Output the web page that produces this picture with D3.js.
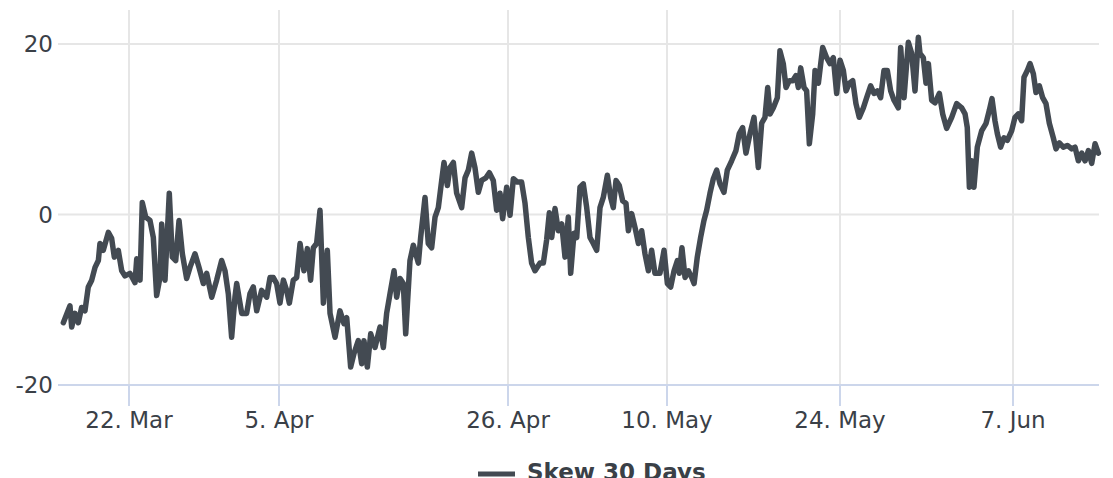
<!DOCTYPE html>
<html>
<head>
<meta charset="utf-8">
<script src="https://cdn.jsdelivr.net/npm/d3@7"></script>
<style>
  html, body { margin: 0; padding: 0; background: #ffffff; }
  svg { display: block; font-family: "DejaVu Sans", sans-serif; }
</style>
</head>
<body>
<svg id="chart" width="1113" height="478"></svg>
<script>
// ---- data (days counted from 22 Mar 2021, value = 30-day skew) ----
const seriesName = "Skew 30 Days";
const baseDate = "2021-03-22";
const tickDates = ["2021-03-22", "2021-04-05", "2021-04-26", "2021-05-10", "2021-05-24", "2021-06-07"];
const yTicks = [-20, 0, 20];

const daysFrom22Mar = [
  -6.13,-5.51,-5.35,-5.04,-4.73,-4.42,-4.11,-3.80,-3.48,-3.17,-2.86,-2.71,-2.40,-1.93,-1.62,-1.37,-1.00,-0.68,-0.37,0.09,
  0.56,0.72,1.03,1.24,1.56,1.96,2.27,2.58,2.89,3.05,3.36,3.76,4.04,4.36,4.67,4.98,5.38,5.69,6.16,6.53,
  6.94,7.25,7.72,8.18,8.65,8.96,9.27,9.58,9.89,
  10.05,10.52,10.98,11.29,11.60,11.92,12.38,12.85,13.16,13.47,13.78,14.09,14.40,14.70,14.95,15.31,15.62,15.93,16.29,16.60,
  16.90,17.15,17.45,17.76,18.07,18.43,18.68,19.14,19.59,19.96,20.21,20.57,20.88,21.27,21.58,21.79,22.10,22.41,22.80,23.26,
  23.57,23.87,24.18,24.55,24.79,25.10,25.40,25.62,26.01,
  26.32,26.78,26.99,27.39,27.69,28.00,28.31,28.61,28.92,29.13,29.44,29.68,29.99,30.29,30.75,31.06,31.36,31.67,31.97,
  32.28,32.58,32.98,33.29,33.65,33.96,34.27,34.51,34.88,35.18,35.47,35.82,36.20,36.50,36.79,37.08,37.38,37.82,
  38.11,38.40,38.64,38.85,39.14,39.43,39.73,40.02,40.31,40.52,40.81,41.05,41.34,41.63,41.93,42.22,
  42.51,42.81,43.10,43.39,43.75,44.04,44.27,44.51,44.80,45.10,45.39,45.60,45.89,46.18,46.48,46.77,47.06,47.36,47.65,47.94,
  48.38,48.74,49.03,49.30,49.57,49.84,50.00,50.21,50.46,50.73,51.00,51.19,51.45,51.72,51.99,52.21,52.48,52.75,53.02,53.29,
  53.61,53.88,54.23,
  54.58,54.85,55.12,55.39,55.72,56.04,56.39,56.66,56.93,57.15,57.34,57.60,57.93,58.14,58.41,58.63,58.90,59.17,59.44,59.63,
  59.82,60.09,60.30,60.52,60.79,60.98,61.25,61.60,61.92,62.19,62.46,62.73,63.00,63.27,63.49,63.76,64.03,64.29,64.56,64.89,
  65.16,65.48,65.75,66.02,66.29,66.56,66.83,67.10,67.37,67.72,67.91,68.18,68.53,68.80,69.07,69.34,
  69.47,69.74,69.96,70.15,70.42,70.69,71.04,71.31,71.63,72.04,72.44,72.85,73.12,73.30,73.47,73.66,73.84,74.11,
  74.46,74.82,75.08,75.30,75.54,75.73,76.00,76.27,76.54,76.89,77.16,77.43,77.70,77.89,78.16,78.38,78.65,78.86,79.13,79.40,
  79.67,79.94,80.26,80.48,80.75,81.07,81.40,81.75,82.02,82.29,82.56,82.83,83.10,83.37,83.64,83.91
];

const skew30 = [
  -12.7,-10.7,-13.2,-11.6,-12.7,-10.9,-11.3,-8.5,-7.7,-6.2,-5.4,-3.4,-4.2,-2.1,-2.8,-5.0,-4.2,-6.6,-7.2,-6.9,
  -8.0,-5.2,-7.7,1.4,-0.3,-0.7,-2.7,-9.5,-7.4,-1.1,-7.7,2.5,-5.0,-5.4,-0.7,-4.6,-7.5,-6.2,-4.6,-6.2,
  -8.1,-6.9,-9.7,-7.7,-5.4,-6.6,-9.3,-14.4,-9.7,
  -8.1,-11.6,-11.6,-9.3,-8.5,-11.3,-8.9,-9.7,-7.4,-7.4,-8.1,-10.4,-7.7,-8.9,-10.4,-7.7,-7.4,-3.4,-6.6,-4.0,
  -7.7,-3.9,-3.4,0.5,-10.4,-4.2,-11.6,-14.4,-11.3,-12.8,-12.1,-17.9,-16.3,-14.8,-17.5,-14.8,-17.9,-14.0,-15.6,-13.2,
  -15.6,-11.6,-9.3,-6.6,-9.7,-7.5,-8.1,-14.0,-5.4,
  -3.6,-5.7,-2.7,2.0,-3.4,-3.9,-0.3,0.8,4.0,6.1,3.4,5.5,6.1,2.5,0.8,4.3,5.2,7.2,5.5,
  2.6,4.0,4.3,4.9,4.0,0.5,2.5,-0.5,3.2,-0.1,4.2,3.8,3.8,1.3,-2.7,-5.7,-6.6,-5.7,
  -5.7,-3.0,0.2,-2.7,0.7,-1.9,-1.1,-5.0,-0.3,-6.9,-2.2,-2.7,3.2,3.6,0.8,-2.7,
  -3.4,-4.2,0.8,2.0,4.6,2.0,0.8,4.0,3.4,1.6,1.3,-1.9,0.1,-1.5,-3.4,-1.9,-4.6,-6.6,-4.2,-6.9,
  -6.9,-4.2,-8.1,-8.5,-6.6,-5.4,-6.9,-3.9,-7.4,-6.6,-7.4,-8.1,-5.0,-2.7,-0.7,0.5,2.5,4.2,5.2,3.6,
  2.6,5.2,6.3,
  7.5,9.5,10.2,7.2,9.5,11.4,5.5,10.7,11.4,14.9,11.8,12.5,13.7,19.2,17.7,14.9,15.7,15.7,16.3,14.9,
  17.2,14.9,14.5,8.3,11.8,16.9,15.4,19.6,18.4,17.7,18.4,14.2,18.1,16.9,14.5,15.4,15.7,13.0,11.4,12.5,
  13.7,15.1,14.2,14.5,13.7,16.9,16.9,14.5,13.4,12.5,19.6,13.7,20.2,18.9,14.5,20.8,
  18.9,18.4,15.4,17.7,13.4,13.1,14.2,11.8,10.1,11.4,13.0,12.5,11.8,10.2,3.2,6.3,3.2,7.9,
  9.8,10.7,12.2,13.6,11.0,9.5,7.9,9.0,8.7,9.8,11.4,11.8,11.0,16.1,16.9,17.7,16.5,14.3,15.1,13.7,
  13.0,10.7,9.0,7.7,8.4,7.9,8.1,7.7,7.9,6.3,7.2,6.3,7.5,6.0,8.3,7.2
];

// ---- layout ----
const W = 1113, H = 478;
const plot = { left: 58, right: 1099, top: 10, bottom: 385 };
// ordinal-style axis: tick dates sit at uneven pixel spacing
const tickPx = [129, 279, 508, 667, 840, 1013];

const parse = d3.utcParse("%Y-%m-%d");
const base = parse(baseDate);
const ticks = tickDates.map(parse);
const data = daysFrom22Mar.map((d, i) => ({
  t: new Date(base.getTime() + d * 86400000),
  v: skew30[i]
}));

const x = d3.scaleUtc().domain(ticks).range(tickPx);
const y = d3.scaleLinear().domain([-20, 20]).range([385, 44]);

const svg = d3.select("#chart");
svg.append("rect").attr("width", W).attr("height", H).attr("fill", "#ffffff");

// vertical grid
svg.append("g").selectAll("line").data(ticks).join("line")
  .attr("x1", d => x(d)).attr("x2", d => x(d))
  .attr("y1", plot.top).attr("y2", plot.bottom)
  .attr("stroke", "#e6e6e6").attr("stroke-width", 2);

// horizontal grid
svg.append("g").selectAll("line").data(yTicks.filter(v => v !== -20)).join("line")
  .attr("x1", plot.left).attr("x2", plot.right)
  .attr("y1", d => y(d)).attr("y2", d => y(d))
  .attr("stroke", "#e6e6e6").attr("stroke-width", 2);

// x axis line + ticks
svg.append("line")
  .attr("x1", plot.left).attr("x2", plot.right)
  .attr("y1", y(-20)).attr("y2", y(-20))
  .attr("stroke", "#ccd6eb").attr("stroke-width", 2);
svg.append("g").selectAll("line").data(ticks).join("line")
  .attr("x1", d => x(d)).attr("x2", d => x(d))
  .attr("y1", y(-20)).attr("y2", y(-20) + 21)
  .attr("stroke", "#ccd6eb").attr("stroke-width", 2);

// x labels
const fmt = d3.utcFormat("%-d. %b");
svg.append("g").selectAll("text").data(ticks).join("text")
  .attr("x", d => x(d)).attr("y", 428)
  .attr("text-anchor", "middle")
  .attr("font-size", 23).attr("fill", "#3a4047")
  .text(d => fmt(d));

// y labels
svg.append("g").selectAll("text").data(yTicks).join("text")
  .attr("x", 53).attr("y", d => y(d))
  .attr("dy", "0.35em")
  .attr("text-anchor", "end")
  .attr("font-size", 23).attr("fill", "#3a4047")
  .text(d => String(d));

// series line
const line = d3.line().x(d => x(d.t)).y(d => y(d.v));
svg.append("path")
  .datum(data)
  .attr("d", line)
  .attr("fill", "none")
  .attr("stroke", "#434a52")
  .attr("stroke-width", 5.5)
  .attr("stroke-linejoin", "round")
  .attr("stroke-linecap", "round");

// legend
const lg = svg.append("g");
lg.append("line")
  .attr("x1", 478).attr("x2", 515).attr("y1", 474).attr("y2", 474)
  .attr("stroke", "#434a52").attr("stroke-width", 5);
lg.append("text")
  .attr("x", 527).attr("y", 480)
  .attr("font-size", 23).attr("font-weight", "bold").attr("fill", "#3a4047")
  .text(seriesName);
</script>
</body>
</html>
